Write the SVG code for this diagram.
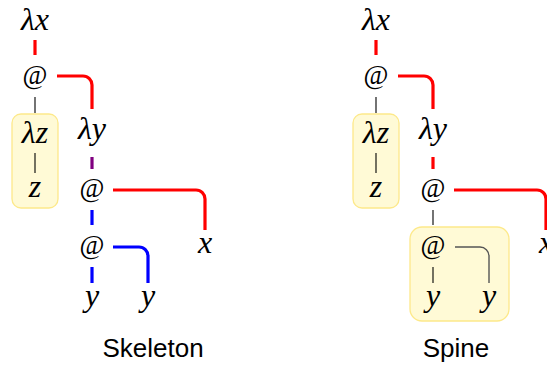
<svg xmlns="http://www.w3.org/2000/svg" width="547" height="365" viewBox="0 0 547 365">
<style>
.m{font-family:"Liberation Serif","DejaVu Serif",serif;font-style:italic;font-size:32px;text-anchor:middle;fill:#000}
.at{font-family:"Liberation Serif","DejaVu Serif",serif;font-size:27px;text-anchor:middle;fill:#000}
.cap{font-family:"Liberation Sans","DejaVu Sans",sans-serif;font-size:26px;text-anchor:middle;fill:#000}
.box{fill:#fffad6;stroke:#fde98a;stroke-width:1.3}
.r{stroke:#ff0000;stroke-width:3.2;fill:none}
.b{stroke:#0000ff;stroke-width:3.2;fill:none}
.p{stroke:#800080;stroke-width:3.2;fill:none}
.k{stroke:#000;stroke-width:1.1;fill:none}
.g{stroke:#555;stroke-width:1.4;fill:none}
</style>
<rect x="0" y="0" width="547" height="365" fill="#fff"/>
<g id="boxes">
<rect id="box-skel" class="box" x="12" y="114" width="46" height="94" rx="9"/>
<rect id="box-spine-z" class="box" x="353" y="114" width="46" height="94" rx="9"/>
<rect id="box-spine" class="box" x="410" y="227" width="99" height="94" rx="12"/>
</g>
<g id="connectors">
<line class="r" x1="35" y1="40" x2="35" y2="55"/>
<path class="r" d="M57 76 H83 A9 9 0 0 1 92 85 V109"/>
<line class="k" x1="35" y1="97" x2="35" y2="113"/>
<line class="k" x1="35" y1="153" x2="35" y2="173"/>
<line class="p" x1="92" y1="157" x2="92" y2="169"/>
<path class="r" d="M113 190 H196 A9 9 0 0 1 205 199 V230"/>
<line class="b" x1="92" y1="210" x2="92" y2="225"/>
<path class="b" d="M113 247 H139 A9 9 0 0 1 148 256 V283"/>
<line class="b" x1="92" y1="267" x2="92" y2="283"/>

<line class="r" x1="376" y1="40" x2="376" y2="55"/>
<path class="r" d="M398 76 H424 A9 9 0 0 1 433 85 V109"/>
<line class="k" x1="376" y1="97" x2="376" y2="113"/>
<line class="k" x1="376" y1="153" x2="376" y2="173"/>
<line class="r" x1="433" y1="157" x2="433" y2="169"/>
<path class="r" d="M454 190 H537 A9 9 0 0 1 546 199 V230"/>
<line class="k" x1="433" y1="210" x2="433" y2="225"/>
<path class="g" d="M455 247 H480 A9 9 0 0 1 489 256 V283"/>
<line class="k" x1="433" y1="267" x2="433" y2="283"/>
</g>
<g id="skel-lx"><text class="m" x="35" y="30">λx</text></g>
<g id="skel-app1"><text class="at" x="35" y="84">@</text></g>
<g id="skel-lz"><text class="m" x="35" y="143">λz</text></g>
<g id="skel-z"><text class="m" x="35" y="197">z</text></g>
<g id="skel-ly"><text class="m" x="92" y="139">λy</text></g>
<g id="skel-app2"><text class="at" x="92" y="197">@</text></g>
<g id="skel-x"><text class="m" x="205" y="253">x</text></g>
<g id="skel-app3"><text class="at" x="92" y="254">@</text></g>
<g id="skel-y1"><text class="m" x="92" y="306">y</text></g>
<g id="skel-y2"><text class="m" x="148" y="306">y</text></g>
<g id="skel-label"><text class="cap" x="153" y="357">Skeleton</text></g>

<g id="spine-lx"><text class="m" x="376" y="30">λx</text></g>
<g id="spine-app1"><text class="at" x="376" y="84">@</text></g>
<g id="spine-lz"><text class="m" x="376" y="143">λz</text></g>
<g id="spine-z"><text class="m" x="376" y="197">z</text></g>
<g id="spine-ly"><text class="m" x="433" y="139">λy</text></g>
<g id="spine-app2"><text class="at" x="433" y="197">@</text></g>
<g id="spine-x"><text class="m" x="546" y="253">x</text></g>
<g id="spine-app3"><text class="at" x="433" y="254">@</text></g>
<g id="spine-y1"><text class="m" x="433" y="306">y</text></g>
<g id="spine-y2"><text class="m" x="489" y="306">y</text></g>
<g id="spine-label"><text class="cap" x="456" y="357">Spine</text></g>
</svg>
